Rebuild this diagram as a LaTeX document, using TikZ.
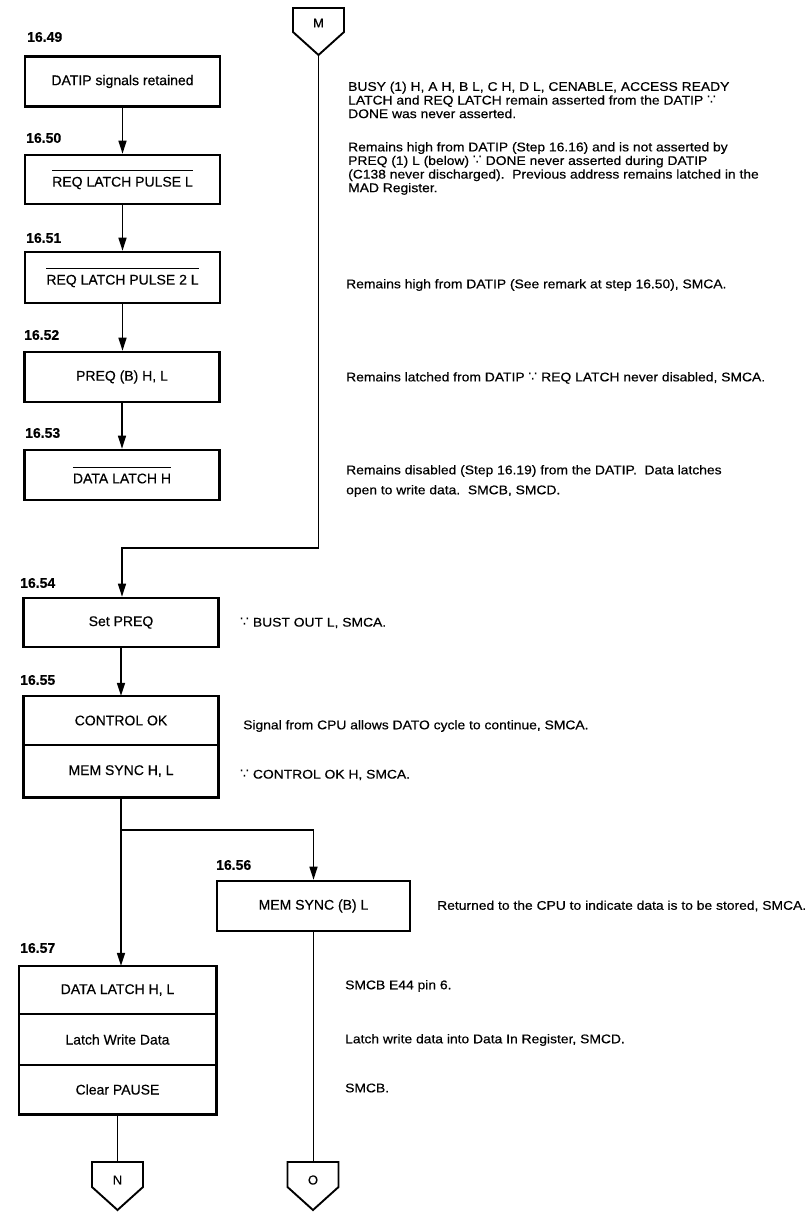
\documentclass[tikz,border=0pt]{standalone}
\usepackage{fontspec}
\setmainfont[FakeBold=0.4]{Liberation Sans}
\newfontfamily\annotfont[FakeStretch=1.1,FakeBold=0.4]{Liberation Sans}
\newfontfamily\symfont{DejaVu Sans}
\usetikzlibrary{arrows.meta}
\newcommand{\ovl}[1]{\vbox{\hrule height 1pt\kern 6pt\hbox{#1}}}
\newcommand{\bec}{{\symfont\fontsize{14}{12}\selectfont ∵}}
\tikzset{
  box/.style={draw, line width=2.6pt, minimum width=195pt, minimum height=50pt, inner sep=0pt, font=\fontsize{14}{16}\selectfont},
  sect/.style={minimum width=195pt, inner sep=0pt, font=\fontsize{14}{16}\selectfont},
  boxline/.style={line width=2.6pt},
  divider/.style={line width=1.7pt},
  lbl/.style={anchor=west, inner sep=0pt, font=\bfseries\fontsize{14}{16}\selectfont},
  note/.style={anchor=west, inner sep=0pt, align=left, font=\annotfont\fontsize{12.6}{13.6}\selectfont},
  conn/.style={line width=1.6pt, -{Triangle[length=13pt,width=8pt]}},
  plain/.style={line width=1.6pt},
  offpage/.style={line width=1.9pt, line join=miter},
  offl/.style={inner sep=0pt, font=\fontsize{13}{15}\selectfont}
}
\begin{document}
\begin{tikzpicture}[x=1pt,y=-1pt]
\useasboundingbox[fill=white] (0,0) rectangle (810,1212);

% off-page connector M
\node[offl] (M) at (318.5,23) {M};
\draw[offpage] (M) ++(-25.5,-15) -- ++(51,0) -- ++(0,24) -- ++(-25.5,23) -- ++(-25.5,-23) -- cycle;
\coordinate (Mp) at (318.5,55);

% left column
\node[lbl] (l49) at (27,37) {16.49};
\node[box] (b49) at (122.5,81.5) {DATIP signals retained};
\node[lbl] (l50) at (26,138) {16.50};
\node[box, minimum height=49pt] (b50) at (122.5,179.5) {\ovl{REQ LATCH PULSE L}};
\node[lbl] (l51) at (26,238) {16.51};
\node[box, minimum height=51pt] (b51) at (122.5,277.5) {\ovl{REQ LATCH PULSE 2 L}};
\node[lbl] (l52) at (24,335) {16.52};
\node[box] (b52) at (122,377) {PREQ (B) H, L};
\node[lbl] (l53) at (25,433) {16.53};
\node[box] (b53) at (122,475) {\ovl{DATA LATCH H}};

\draw[conn] (b49.south) -- (b49.south |- b50.north);
\draw[conn] (b50.south) -- (b50.south |- b51.north);
\draw[conn] (b51.south) -- (b51.south |- b52.north);
\draw[conn] (b52.south) -- (b52.south |- b53.north);

\node[lbl] (l54) at (20,583) {16.54};
\node[box, minimum height=49pt] (b54) at (121,622.5) {Set PREQ};
\coordinate (Mturn) at (122,548);
\draw[conn] (Mp) |- (Mturn) -- (Mturn |- b54.north);

\node[lbl] (l55) at (20,680) {16.55};
\node[sect, minimum height=49pt] (b55a) at (121,720.5) {CONTROL OK};
\node[sect, minimum height=52pt] (b55b) at (121,771) {MEM SYNC H, L};
\draw[boxline] (b55a.north west) rectangle (b55b.south east);
\draw[divider] (b55a.south west) -- (b55a.south east);
\draw[conn] (b54.south) -- (b54.south |- b55a.north);

% branch
\coordinate (br) at (121,830);
\node[lbl] (l56) at (216,865) {16.56};
\node[box, minimum width=193pt] (b56) at (313.5,906) {MEM SYNC (B) L};
\node[lbl] (l57) at (20,948) {16.57};
\node[sect, minimum width=197pt, minimum height=48pt] (b57a) at (117.5,990) {DATA LATCH H, L};
\node[sect, minimum width=197pt, minimum height=51pt] (b57b) at (117.5,1039.5) {Latch Write Data};
\node[sect, minimum width=197pt, minimum height=49pt] (b57c) at (117.5,1089.5) {Clear PAUSE};
\draw[boxline] (b57a.north west) rectangle (b57c.south east);
\draw[divider] (b57a.south west) -- (b57a.south east);
\draw[divider] (b57b.south west) -- (b57b.south east);

\draw[plain] (b55b.south) -- (br);
\draw[conn] (br) -- (br |- b57a.north);
\draw[conn] (br) -| (b56.north);

% off-page connectors N and O
\node[offl] (N) at (117.5,1180) {N};
\draw[offpage] (N) ++(-25.5,-18) -- ++(51,0) -- ++(0,25) -- ++(-25.5,23) -- ++(-25.5,-23) -- cycle;
\coordinate (Nt) at (117.5,1162);
\node[offl] (O) at (313,1180) {O};
\draw[offpage] (O) ++(-25.5,-18) -- ++(51,0) -- ++(0,25) -- ++(-25.5,23) -- ++(-25.5,-23) -- cycle;
\coordinate (Ot) at (313,1162);
\draw[plain] (b57c.south) -- (Nt);
\draw[plain] (b56.south) -- (b56.south |- Ot);

% annotations
\node[note] (n49) at (348,100) {BUSY (1) H, A H, B L, C H, D L, CENABLE, ACCESS READY\\LATCH and REQ LATCH remain asserted from the DATIP \bec\\DONE was never asserted.};
\node[note] (n50) at (348,168.5) {Remains high from DATIP (Step 16.16) and is not asserted by\\PREQ (1) L (below) \bec{} DONE never asserted during DATIP\\(C138 never discharged).\ \ Previous address remains latched in the\\MAD Register.};
\node[note] (n51) at (346,285) {Remains high from DATIP (See remark at step 16.50), SMCA.};
\node[note] (n52) at (346,378) {Remains latched from DATIP \bec{} REQ LATCH never disabled, SMCA.};
\node[note, font=\annotfont\fontsize{12.6}{20}\selectfont] (n53) at (346,481) {Remains disabled (Step 16.19) from the DATIP.\ \ Data latches\\open to write data.\ \ SMCB, SMCD.};
\node[note] (n54) at (240,623) {\bec{} BUST OUT L, SMCA.};
\node[note] (n55a) at (243,726) {Signal from CPU allows DATO cycle to continue, SMCA.};
\node[note] (n55b) at (240,775) {\bec{} CONTROL OK H, SMCA.};
\node[note] (n56) at (437,906) {Returned to the CPU to indicate data is to be stored, SMCA.};
\node[note] (n57a) at (345,986) {SMCB E44 pin 6.};
\node[note] (n57b) at (345,1040) {Latch write data into Data In Register, SMCD.};
\node[note] (n57c) at (345,1088) {SMCB.};
\end{tikzpicture}
\end{document}
